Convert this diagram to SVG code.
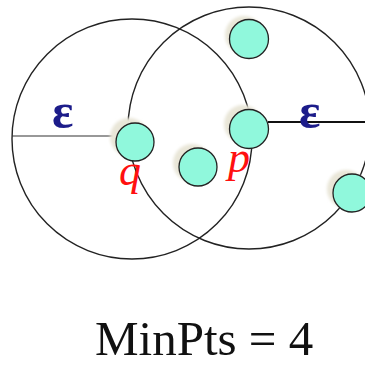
<svg xmlns="http://www.w3.org/2000/svg" width="365" height="365" viewBox="0 0 365 365">
<style>
.ring{fill:none;stroke:#222;stroke-width:1.4}
.sh{fill:#e9e6d8}
.pt{fill:#90f8dc;stroke:#222;stroke-width:1.3}
.eps{font-family:"Liberation Serif",serif;font-weight:bold;font-size:50px;fill:#1c1c8a}
.lbl{font-family:"Liberation Serif",serif;font-style:italic;font-size:44px;fill:#ff1010}
</style>
<defs><filter id="soft" x="-30%" y="-30%" width="160%" height="160%"><feGaussianBlur stdDeviation="1.5"/></filter></defs>
<rect width="365" height="365" fill="#fff"/>
<g id="connectors">
<circle class="ring" cx="132" cy="139" r="120"/>
<circle class="ring" cx="249" cy="128" r="121"/>
<line x1="12" y1="136" x2="118" y2="136" stroke="#333" stroke-width="1.2"/>
<line x1="268" y1="122" x2="365" y2="122" stroke="#111" stroke-width="2"/>
</g>
<g id="eps-left"><text class="eps" x="52" y="128">ε</text></g>
<g id="eps-right"><text class="eps" x="299" y="128">ε</text></g>
<g id="node-top"><circle class="sh" cx="244" cy="35" r="19" filter="url(#soft)"/><circle class="pt" cx="249" cy="39" r="19.5"/></g>
<g id="node-q"><circle class="sh" cx="129" cy="137" r="19" filter="url(#soft)"/><circle class="pt" cx="135" cy="142" r="19"/></g>
<g id="node-mid"><circle class="sh" cx="192" cy="163" r="19" filter="url(#soft)"/><circle class="pt" cx="198" cy="167" r="19"/></g>
<g id="node-p"><circle class="sh" cx="243" cy="124" r="19" filter="url(#soft)"/><circle class="pt" cx="249" cy="129" r="19.5"/></g>
<g id="node-right"><circle class="sh" cx="346" cy="189" r="19" filter="url(#soft)"/><circle class="pt" cx="352" cy="193" r="19"/></g>
<g id="label-q"><text class="lbl" x="119" y="185">q</text></g>
<g id="label-p"><text class="lbl" x="228" y="172">p</text></g>
<g id="caption"><text x="95" y="355" font-family="'Liberation Serif',serif" font-size="49" fill="#111">MinPts = 4</text></g>
</svg>
